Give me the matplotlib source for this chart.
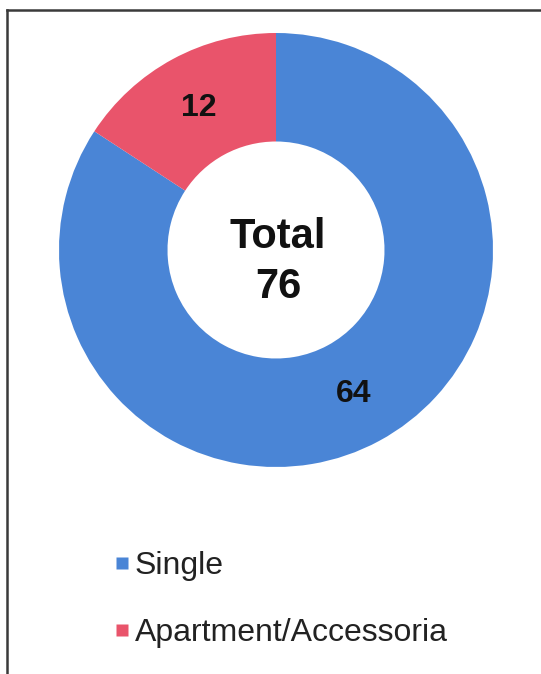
import matplotlib
matplotlib.use("Agg")
import matplotlib.pyplot as plt
from matplotlib.lines import Line2D
import numpy as np

plt.rcParams['font.family'] = ['Liberation Sans', 'DejaVu Sans']

categories = ["Single", "Apartment/Accessoria"]
values = [64, 12]
colors = ["#4A85D6", "#E9546B"]
total = sum(values)

W, H = 541, 674
fig = plt.figure(figsize=(W / 100, H / 100), dpi=100)
fig.patch.set_facecolor("white")

# frame around the chart (left and top edges visible)
fig.add_artist(Line2D([6.5 / W, 6.5 / W], [0, 1 - 10 / H], transform=fig.transFigure,
                      color="#3a3a3a", lw=1.8))
fig.add_artist(Line2D([6.5 / W, 1], [1 - 10 / H, 1 - 10 / H], transform=fig.transFigure,
                      color="#3a3a3a", lw=1.8))

cx, cy, R = 276, 250, 217
ax = fig.add_axes([(cx - R) / W, (H - cy - R) / H, 2 * R / W, 2 * R / H])
wedges, _ = ax.pie(values, colors=colors, startangle=90, counterclock=False,
                   radius=1.0, wedgeprops=dict(width=0.5, edgecolor="none"))
ax.set_xlim(-1, 1)
ax.set_ylim(-1, 1)
ax.set_aspect("equal")
ax.axis("off")

for w, v in zip(wedges, values):
    ang = np.deg2rad((w.theta1 + w.theta2) / 2)
    r = 0.75
    ax.text(r * np.cos(ang), r * np.sin(ang) - 0.005, str(v), ha="center", va="center",
            fontsize=23, fontweight="bold", color="#111111")

ax.text(0.01, -0.055, f"Total\n{total}", ha="center", va="center", fontsize=30,
        fontweight="bold", color="#111111", linespacing=1.3)

handles = [Line2D([0], [0], marker="s", linestyle="none", markersize=9,
                  markerfacecolor=c, markeredgecolor="none") for c in colors]
fig.legend(handles, categories, loc="upper left",
           bbox_to_anchor=(98 / W, 1 - 535 / H), frameon=False,
           fontsize=23, handlelength=0.5, handletextpad=0.15,
           labelspacing=1.15, borderpad=0, labelcolor="#222222")

fig.savefig("out.png", dpi=100, facecolor="white")
